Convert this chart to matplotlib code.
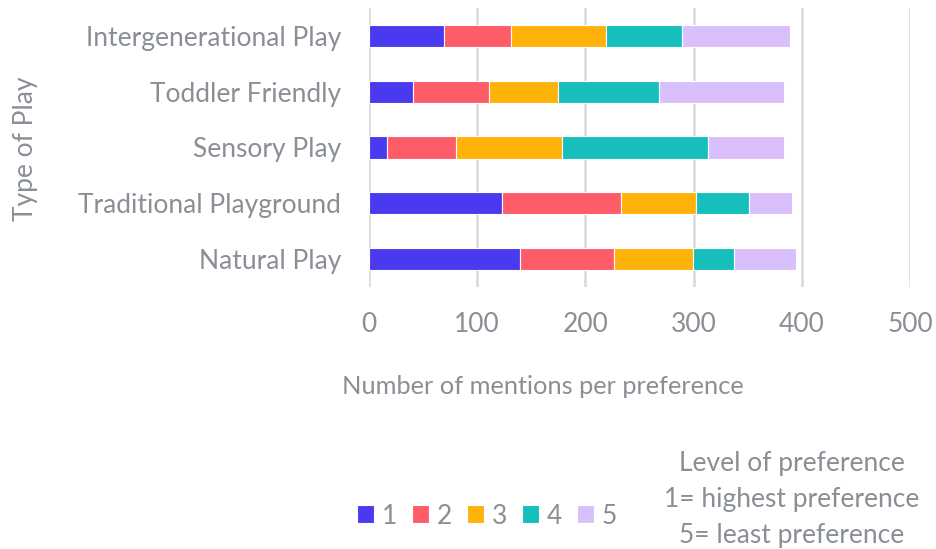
import matplotlib
matplotlib.use("Agg")
import matplotlib.pyplot as plt
import numpy as np

categories = ["Natural Play", "Traditional Playground", "Sensory Play",
              "Toddler Friendly", "Intergenerational Play"]
levels = ["1", "2", "3", "4", "5"]
# values per preference level, in order of categories
level1 = [140, 123, 17, 41, 69]
level2 = [86, 110, 63, 70, 62]
level3 = [73, 69, 98, 64, 88]
level4 = [38, 49, 135, 93, 70]
level5 = [58, 40, 71, 116, 100]
series = [level1, level2, level3, level4, level5]
colors = ["#4A3AEF", "#FF5C6A", "#FFB30A", "#16BFBC", "#D9C0FD"]
xticks = [0, 100, 200, 300, 400, 500]

TXT = "#8A8F96"
plt.rcParams['font.family'] = ['Lato', 'DejaVu Sans']

fig = plt.figure(figsize=(9.36, 5.49), dpi=100)
ax = fig.add_axes([369/936, 1-287/549, (910-369)/936, (287-8)/549])

y = np.arange(len(categories))
left = np.zeros(len(categories))
for vals, col, lab in zip(series, colors, levels):
    ax.barh(y, vals, left=left, height=0.4, color=col, edgecolor="white",
            linewidth=0.8, label=lab, zorder=3)
    left += np.array(vals)

ax.set_xlim(0, 500)
ax.set_ylim(-0.5, len(categories) - 0.5)
ax.set_xticks(xticks)
ax.set_yticks(y)
ax.set_yticklabels(categories)
ax.xaxis.grid(True, color="#D9D9D9", linewidth=1.8, zorder=0)
ax.set_axisbelow(True)
for s in ax.spines.values():
    s.set_visible(False)
ax.tick_params(axis="both", length=0, labelsize=19, labelcolor=TXT)
ax.tick_params(axis="x", pad=18)
ax.tick_params(axis="y", pad=20)

fig.text(543/936, 1-387/549, "Number of mentions per preference", ha="center",
         va="center", fontsize=18.3, color=TXT)
fig.text(25/936, 1-149/549, "Type of Play", ha="center", va="center",
         rotation=90, fontsize=19, color=TXT)

handles, labels = ax.get_legend_handles_labels()
fig.legend(handles, labels, loc="center", bbox_to_anchor=(487/936, 1-516/549),
           ncol=5, frameon=False, fontsize=19, labelcolor=TXT,
           handlelength=0.65, handleheight=0.65, handletextpad=0.3,
           columnspacing=0.55, borderpad=0.2)

fig.text(792/936, 1-500/549,
         "Level of preference\n1= highest preference\n5= least preference",
         ha="center", va="center", fontsize=19, color=TXT, linespacing=1.55)

fig.savefig("out.png", dpi=100)
